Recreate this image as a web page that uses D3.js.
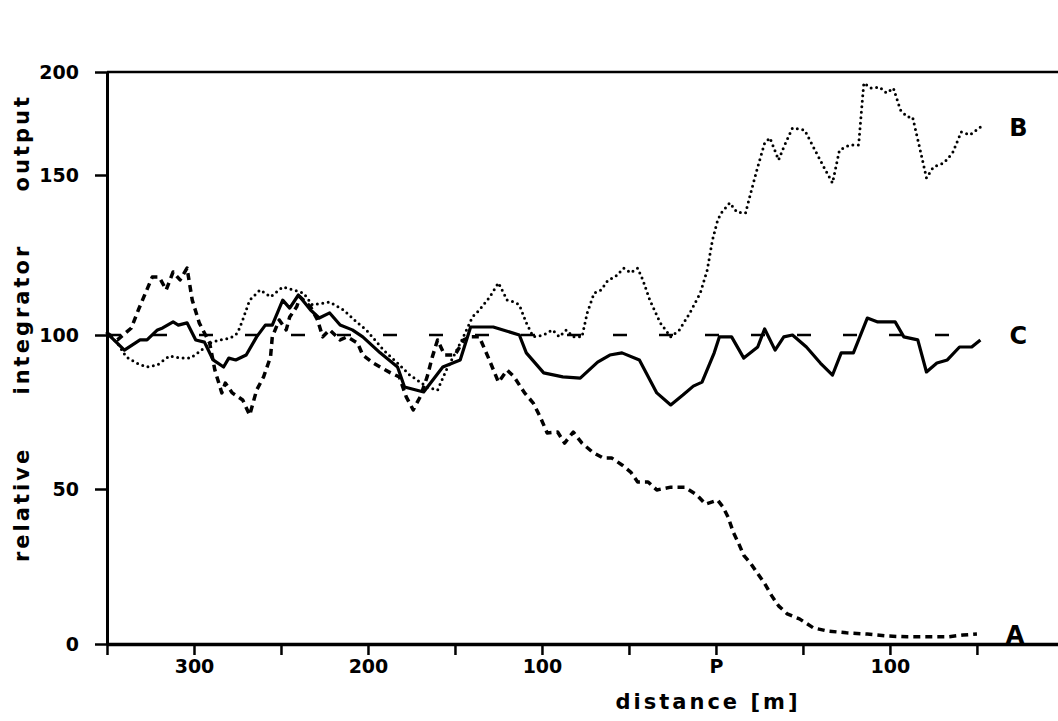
<!DOCTYPE html>
<html>
<head>
<meta charset="utf-8">
<script src="https://cdn.jsdelivr.net/npm/d3@7"></script>
<style>
  html, body { margin: 0; padding: 0; background: #fff; }
  svg text { font-family: "DejaVu Sans", "Liberation Sans", sans-serif; font-weight: bold; fill: #000; }
</style>
</head>
<body>
<svg id="chart" width="1058" height="721"></svg>
<script>
// ---- data (distance in m relative to P; negative = before P) ----
const aDist = [-350,-344,-336,-332,-324,-320,-316,-312,-308,-304,-301,-297,-291,-288,-284,-282,-278,-272,-268,-264,-260,-256,-255,-251,-247,-245,-241,-239,-233,-229,-226,-222,-216,-212,-206,-203,-197,-193,-187,-182,-178,-174,-170,-166,-163,-160,-156,-150,-145,-141,-136,-131,-125,-120,-116,-110,-105,-101,-97,-91,-87,-82,-77,-71,-65,-60,-54,-49,-45,-39,-34,-26,-18,-11,-6,1,4,7,10,13,16,20,24,28,32,36,41,48,56,64,75,87,98,110,121,133,142,150];
const aVal  = [100.6,98.4,102.2,107.8,118.1,118.1,114.1,119.7,117.2,120.9,110.9,103.8,97.4,88.6,81.2,84.4,81.2,78.9,74.0,82.1,86.4,92.9,99.4,104.7,101.6,105.6,108.8,111.9,108.8,104.7,99.4,101.6,98.4,99.4,97.4,93.5,90.9,89.6,87.7,86.4,79.9,75.7,79.9,86.4,92.9,98.4,93.5,93.5,98.4,99.4,99.4,92.9,84.7,88.6,86.4,81.2,77.9,73.4,68.2,68.5,64.9,68.5,64.9,62.0,60.1,60.1,57.8,55.5,52.3,52.3,49.7,50.6,50.6,48.1,45.1,46.4,44.2,40.9,36.0,32.5,28.6,26.0,22.7,19.5,15.6,12.3,9.7,8.1,5.2,4.2,3.6,3.2,2.6,2.3,2.3,2.3,2.9,3.2];

const bDist = [-350,-344,-339,-333,-327,-321,-314,-308,-302,-297,-291,-285,-279,-275,-272,-268,-262,-256,-249,-243,-237,-232,-222,-214,-206,-201,-191,-183,-176,-170,-166,-160,-155,-151,-146,-140,-136,-130,-125,-120,-116,-113,-109,-105,-99,-94,-90,-86,-82,-77,-74,-70,-66,-62,-58,-53,-49,-45,-42,-38,-32,-26,-21,-15,-9,-5,-2,1,3,8,12,17,20,24,28,31,36,39,44,51,56,62,67,71,77,82,85,89,94,98,102,106,110,113,117,121,125,131,136,141,146,152];
const bVal  = [100.6,97.4,92.9,90.9,89.6,90.3,93.2,92.5,92.5,94.5,97.4,98.4,99.0,100.6,104.7,110.9,114.1,111.9,115.0,114.1,113.1,109.4,110.3,107.8,103.8,101.6,95.1,90.9,87.0,84.7,83.1,82.1,88.6,92.9,98.4,105.6,107.8,111.9,116.3,110.9,110.3,109.4,103.8,99.4,100,101.6,99.4,101.6,99.4,99.4,106.9,113.1,114.1,117.2,118.1,120.9,119.4,120.9,117.2,110.9,103.8,99.4,101.6,106.9,113.1,120.3,129.7,135.9,138.1,141.3,138.4,138.1,144.4,153.9,165.5,168.0,157.3,163.6,172.8,171.8,163.6,153.9,147.5,162.1,164.6,164.6,194.7,192.2,192.7,189.8,192.2,181.6,178.2,178.2,163.6,149.1,153.9,155.8,160.7,170.9,169.4,173.3];

const cDist = [-350,-340,-331,-327,-321,-318,-312,-309,-304,-299,-294,-289,-283,-280,-276,-270,-264,-259,-255,-249,-245,-240,-233,-228,-222,-216,-209,-203,-193,-183,-179,-168,-157,-147,-141,-128,-113,-109,-99,-88,-78,-68,-61,-54,-44,-34,-26,-19,-13,-8,-1,2,9,16,24,28,34,39,44,52,60,67,72,79,87,93,103,108,116,121,127,133,140,147,152];
const cVal  = [100.6,95.1,98.4,98.4,101.6,102.2,104.1,103.1,103.8,98.4,97.7,91.9,89.6,92.5,91.9,93.5,99.4,103.1,103.1,110.9,108.4,112.5,107.8,105.3,106.9,103.1,101.6,99.4,94.2,89.6,83.1,81.5,89.6,91.9,102.5,102.5,100,94.2,87.7,86.4,86.0,91.2,93.5,94.2,91.9,81.2,77.3,80.5,83.4,84.7,94.2,99.4,99.4,92.5,96.1,101.9,95.1,99.4,100,96.1,90.9,87.0,94.2,94.2,105.3,104.1,104.1,99.4,98.4,88.0,90.9,91.9,96.1,96.1,98.4];

const refDist = [-350, 152];
const refVal  = [100, 100];

const yTicks = [0, 50, 100, 150, 200];
const xTicks = [-350, -300, -250, -200, -150, -100, -50, 0, 50, 100, 150];
const xTickLabels = { "-300": "300", "-200": "200", "-100": "100", "0": "P", "100": "100" };
const seriesNames = ["A", "B", "C"];
const xTitle = "distance [m]";
const yTitle = "relative integrator output";

// ---- scales ----
const svg = d3.select("#chart");
const x = d3.scaleLinear().domain([-350, 196.6]).range([107, 1058]);
const y = d3.scaleLinear().domain(yTicks).range([644, 489, 335, 175, 72]);

// ---- axes ----
const gx = svg.append("g").attr("transform", `translate(0,${y(0)})`)
  .call(d3.axisBottom(x).tickValues(xTicks)
    .tickFormat(d => xTickLabels[String(d)] || "")
    .tickSize(11).tickSizeOuter(0).tickPadding(5));
gx.select(".domain").attr("stroke", "#000").attr("stroke-width", 3.5);
gx.selectAll(".tick line").attr("stroke", "#000").attr("stroke-width", 2.5);
gx.selectAll(".tick text").attr("font-size", 19).style("font-family", "DejaVu Sans").style("font-weight", "bold");

const gy = svg.append("g").attr("transform", `translate(${x(-350)},0)`)
  .call(d3.axisLeft(y).tickValues(yTicks).tickFormat(d3.format("d"))
    .tickSize(12).tickSizeOuter(0).tickPadding(16));
gy.select(".domain").attr("stroke", "#000").attr("stroke-width", 3);
gy.selectAll(".tick line").attr("stroke", "#000").attr("stroke-width", 2.5);
gy.selectAll(".tick text").attr("font-size", 19).style("font-family", "DejaVu Sans").style("font-weight", "bold");

// top frame line
svg.append("line")
  .attr("x1", x(-350)).attr("x2", x.range()[1])
  .attr("y1", y(200)).attr("y2", y(200))
  .attr("stroke", "#000").attr("stroke-width", 2.5);

// ---- lines ----
const line = d3.line().x(d => x(d[0])).y(d => y(d[1]));
const zip = (ds, vs) => ds.map((d, i) => [d, vs[i]]);

svg.append("path").datum(zip(refDist, refVal)).attr("d", line)
  .attr("fill", "none").attr("stroke", "#000").attr("stroke-width", 2.5)
  .attr("stroke-dasharray", "14,32");

svg.append("path").datum(zip(cDist, cVal)).attr("d", line)
  .attr("fill", "none").attr("stroke", "#000").attr("stroke-width", 3.2)
  .attr("stroke-linejoin", "round");

svg.append("path").datum(zip(aDist, aVal)).attr("d", line)
  .attr("fill", "none").attr("stroke", "#000").attr("stroke-width", 3.5)
  .attr("stroke-dasharray", "7,5").attr("stroke-linejoin", "round");

svg.append("path").datum(zip(bDist, bVal)).attr("d", line)
  .attr("fill", "none").attr("stroke", "#000").attr("stroke-width", 3)
  .attr("stroke-dasharray", "0,5.5").attr("stroke-linecap", "round");

// ---- series labels ----
const ends = [
  [aDist[aDist.length - 1], aVal[aVal.length - 1]],
  [bDist[bDist.length - 1], bVal[bVal.length - 1]],
  [refDist[refDist.length - 1], refVal[refVal.length - 1]]
];
svg.selectAll("text.series").data(seriesNames).join("text")
  .attr("class", "series")
  .attr("x", (d, i) => x(ends[i][0]) + 38)
  .attr("y", (d, i) => y(ends[i][1]))
  .attr("dy", "0.36em")
  .attr("text-anchor", "middle")
  .attr("font-size", 24)
  .text(d => d);

// ---- titles ----
svg.append("text")
  .attr("x", 708).attr("y", 709)
  .attr("text-anchor", "middle")
  .attr("font-size", 21)
  .style("letter-spacing", "3px")
  .text(xTitle);

svg.append("text")
  .attr("transform", "translate(29,328) rotate(-90)")
  .attr("text-anchor", "middle")
  .attr("font-size", 21)
  .style("letter-spacing", "3px")
  .style("word-spacing", "42px")
  .text(yTitle);
</script>
</body>
</html>
